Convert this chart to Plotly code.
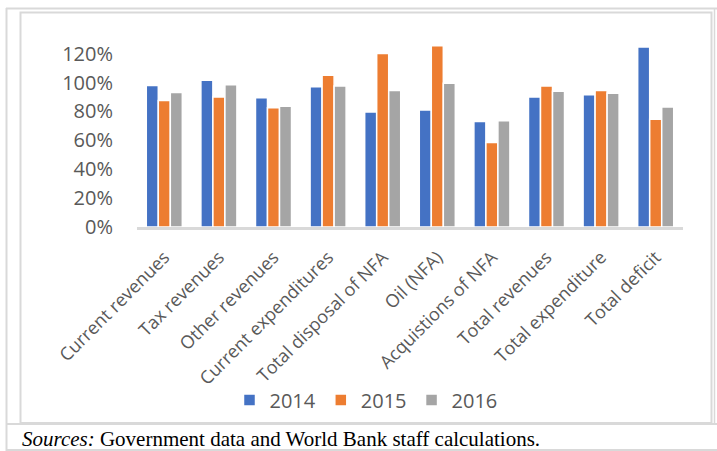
import plotly.graph_objects as go

# Execution ratios (share of budget), by item and year
categories = [
    "Current revenues", "Tax revenues", "Other revenues", "Current expenditures",
    "Total disposal of NFA", "Oil (NFA)", "Acquistions of NFA", "Total revenues",
    "Total expenditure", "Total deficit",
]
y2014 = [0.98, 1.015, 0.895, 0.97, 0.795, 0.81, 0.73, 0.90, 0.915, 1.245]
y2015 = [0.875, 0.90, 0.825, 1.05, 1.20, 1.255, 0.585, 0.975, 0.945, 0.745]
y2016 = [0.93, 0.985, 0.835, 0.975, 0.945, 0.995, 0.735, 0.94, 0.925, 0.83]
years = ["2014", "2015", "2016"]
colors = ["#4472C4", "#ED7D31", "#A5A5A5"]
y_ticks = [0, 0.2, 0.4, 0.6, 0.8, 1.0, 1.2]

W, H = 717, 451
L, R, T, B = 137, 34, 39, 224
PW, PH = W - L - R, H - T - B


def px(x):
    return (x - L) / PW


def py(y):
    return (H - B - y) / PH


fig = go.Figure()
for name, vals, col in zip(years, [y2014, y2015, y2016], colors):
    fig.add_trace(go.Bar(
        x=categories, y=vals, name=name,
        marker=dict(color=col, line=dict(color="white", width=1.5)),
    ))

text_col = "#595959"
border = "#D9D9D9"

shapes = [
    # table frame around the chart and the source note
    dict(type="line", xref="paper", yref="paper", x0=px(6.5), x1=px(6.5), y0=py(8), y1=py(451),
         line=dict(color=border, width=2)),
    dict(type="line", xref="paper", yref="paper", x0=px(714.5), x1=px(714.5), y0=py(8), y1=py(424),
         line=dict(color=border, width=1.5)),
    dict(type="line", xref="paper", yref="paper", x0=px(6), x1=px(717), y0=py(8.5), y1=py(8.5),
         line=dict(color=border, width=2)),
    dict(type="line", xref="paper", yref="paper", x0=px(6), x1=px(717), y0=py(424), y1=py(424),
         line=dict(color=border, width=2)),
    dict(type="line", xref="paper", yref="paper", x0=px(6), x1=px(717), y0=py(450), y1=py(450),
         line=dict(color=border, width=2)),
    # chart area border
    dict(type="rect", xref="paper", yref="paper", x0=px(20.5), x1=px(711.5), y0=py(12.5), y1=py(423),
         line=dict(color=border, width=2)),
]

fig.update_layout(
    width=W, height=H,
    margin=dict(l=L, r=R, t=T, b=B),
    paper_bgcolor="white", plot_bgcolor="white",
    barmode="group", bargap=0.34, bargroupgap=0.0,
    font=dict(family="Open Sans", color=text_col),
    showlegend=True,
    legend=dict(orientation="h", x=px(366), xanchor="center", y=py(400), yanchor="middle",
                font=dict(size=20, color=text_col), traceorder="normal"),
    xaxis=dict(
        showline=True, linecolor=border, linewidth=2.5, ticks="", showgrid=False,
        tickangle=-45, tickfont=dict(size=18, color=text_col), ticklabelstandoff=10,
        fixedrange=True,
    ),
    yaxis=dict(
        range=[0, PH / 144.5], tickvals=y_ticks, tickformat=".0%", showgrid=False,
        zeroline=False, showline=False, ticks="",
        tickfont=dict(size=20, color=text_col), ticklabelstandoff=23,
    ),
    shapes=shapes,
    annotations=[
        dict(
            text="<i>Sources:</i> Government data and World Bank staff calculations.",
            xref="paper", yref="paper", x=px(20), y=py(439), xanchor="left", yanchor="middle",
            showarrow=False, font=dict(family="Liberation Serif", size=21, color="black"),
        )
    ],
)

fig.write_html("out.html")
